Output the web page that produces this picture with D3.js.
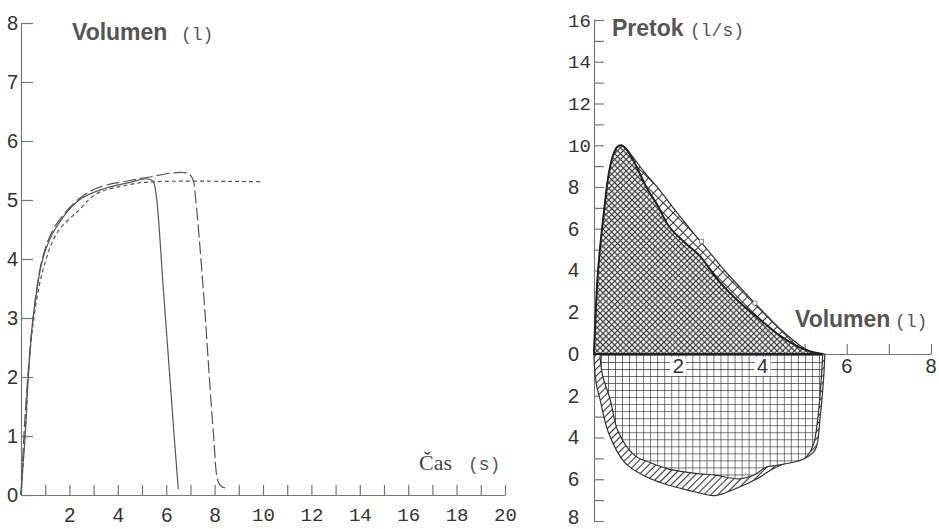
<!DOCTYPE html>
<html>
<head>
<meta charset="utf-8">
<script src="https://cdn.jsdelivr.net/npm/d3@7"></script>
<style>
  body { margin: 0; background: #fff; }
  svg { display: block; }
  .axis path, .axis line { stroke: #777; stroke-width: 1.2; }
  .tick text { font-family: 'Liberation Sans', Arial, sans-serif; font-size: 20px; fill: #333; }
  .tick text.mono { font-family: 'Liberation Mono', monospace; font-size: 19px; }
  .title { font-family: 'Liberation Sans', Arial, sans-serif; font-weight: bold; font-size: 23px; fill: #555; }
  .unit { font-family: 'Liberation Mono', monospace; font-size: 18px; fill: #555; }
  .serif { font-family: 'Liberation Serif', 'DejaVu Serif', serif; font-size: 22px; fill: #444; }
  .vt { fill: none; stroke: #555; stroke-width: 1.2; }
</style>
</head>
<body>
<svg id="chart" width="939" height="529"></svg>
<script>
// volume-time curves, [time s, volume l]
const trialSolid = [[0,0],[0.08,0.5],[0.17,1],[0.3,2],[0.5,3],[0.9,4],[1.4,4.5],[2.4,5.0],[3.5,5.2],[4.5,5.3],[5.2,5.36],[5.45,5.32],[5.58,5.1],[5.88,3.5],[6.32,1.05],[6.5,0.1]]
const trialDash = [[0,0],[0.12,1],[0.28,2],[0.5,3],[0.88,4],[1.4,4.55],[2.4,5.02],[3.26,5.22],[4.5,5.33],[5.33,5.39],[6.3,5.46],[6.9,5.45],[7.1,5.35],[7.22,5.0],[7.53,3.5],[7.95,1.05],[8.15,0.22],[8.3,0.14],[8.43,0.12]]
const trialDot = [[0,0],[0.1,0.6],[0.2,1.2],[0.3,2],[0.5,2.9],[0.9,3.8],[1.5,4.45],[2.4,4.83],[3.1,5.1],[4.6,5.27],[5.5,5.31],[9.9,5.31]]

const volTicks = [0,1,2,3,4,5,6,7,8]
const timeTicks = [1,2,3,4,5,6,7,8,9,10,11,12,13,14,15,16,17,18,19,20]

// flow-volume loops, [volume l, flow l/s]
const expMeasured = [[0,0],[0.03,1.5],[0.08,3.5],[0.14,5],[0.22,6.5],[0.34,8.5],[0.45,9.5],[0.55,9.92],[0.65,10.0],[0.75,9.85],[0.9,9.4],[1.05,8.8],[1.25,7.97],[1.49,7.18],[1.8,6.06],[2.2,5.26],[2.51,4.7],[2.99,3.43],[3.46,2.47],[3.93,1.67],[4.41,0.88],[4.88,0.32],[5.2,0.08],[5.43,0]]
const expOuter = [[0,0],[0.03,1.5],[0.08,3.5],[0.14,5],[0.22,6.5],[0.34,8.5],[0.45,9.5],[0.55,9.92],[0.65,10.0],[0.75,9.88],[0.9,9.5],[1.2,8.7],[1.56,7.85],[1.9,6.95],[2.3,5.95],[2.65,5.1],[3.1,4.0],[3.65,2.8],[4.1,1.85],[4.45,1.15],[4.9,0.4],[5.2,0.08],[5.43,0]]
const inspMeasured = [[0.14,0],[0.2,-1],[0.38,-2.15],[0.58,-3.75],[0.97,-4.87],[1.33,-5.2],[1.76,-5.5],[2.51,-5.74],[2.87,-5.8],[3.46,-5.98],[3.8,-5.8],[4.09,-5.42],[4.33,-5.34],[4.8,-5.15],[5.0,-5.0],[5.2,-4.39],[5.32,-2.95],[5.4,-1.04],[5.43,0]]
const inspOuter = [[0,0],[0.02,-0.8],[0.06,-1.5],[0.14,-2.15],[0.34,-3.75],[0.73,-5.2],[1.37,-6.0],[2.39,-6.6],[2.87,-6.78],[3.3,-6.5],[3.85,-6.0],[4.25,-5.5],[4.6,-5.2],[5.0,-5.0],[5.25,-4.6],[5.37,-3.0],[5.45,-1.2],[5.48,0]]
const predicted = [[2.55,5.4],[3.82,2.44]]

const flowTicks = [-8,-7,-6,-5,-4,-3,-2,-1,0,1,2,3,4,5,6,7,8,9,10,11,12,13,14,15,16]
const volAxisTicks = [1,2,3,4,5,6,7,8]
const volAxisLabels = [2,4,6,8]

let svg = d3.select('#chart')
let defs = svg.append('defs')

// hatch patterns
function crossPattern(id, size, color, width) {
  let p = defs.append('pattern')
      .attr('id', id)
      .attr('patternUnits', 'userSpaceOnUse')
      .attr('width', size).attr('height', size)
      .attr('patternTransform', 'rotate(45)')
  p.append('rect').attr('width', size).attr('height', size).attr('fill', '#fff')
  p.append('path')
      .attr('d', `M0,${ size/2 }H${ size }M${ size/2 },0V${ size }`)
      .attr('stroke', color).attr('stroke-width', width)
}
crossPattern('fineX', 4.1, '#3a3a3a', 1.2)
crossPattern('coarseX', 7, '#333', 1)

let grid = defs.append('pattern')
    .attr('id', 'grid')
    .attr('patternUnits', 'userSpaceOnUse')
    .attr('x', 594).attr('y', 355)
    .attr('width', 7.03).attr('height', 7.03)
grid.append('rect').attr('width', 7.03).attr('height', 7.03).attr('fill', '#fff')
grid.append('path').attr('d', 'M0,0H7.03M0,0V7.03').attr('stroke', '#333').attr('stroke-width', 1.3)

let hatch = defs.append('pattern')
    .attr('id', 'hatch')
    .attr('patternUnits', 'userSpaceOnUse')
    .attr('width', 5).attr('height', 5)
    .attr('patternTransform', 'rotate(-45)')
hatch.append('rect').attr('width', 5).attr('height', 5).attr('fill', '#fff')
hatch.append('path').attr('d', 'M0,2.5H5').attr('stroke', '#333').attr('stroke-width', 1.1)

// ---------- left: volume vs time ----------
let xL = d3.scaleLinear().domain([0, 20]).range([21, 505])
let yL = d3.scaleLinear().domain([0, 8]).range([495, 23])

svg.append('g')
    .attr('class', 'axis')
    .attr('transform', `translate(${ xL(0) },0)`)
    .call(d3.axisLeft(yL).tickValues(volTicks).tickSizeInner(-12).tickSizeOuter(0).tickPadding(3))

svg.append('g')
    .attr('class', 'axis')
    .attr('transform', `translate(0,${ yL(0) })`)
    .call(d3.axisBottom(xL).tickValues(timeTicks).tickSizeInner(-10).tickSizeOuter(0).tickPadding(13)
      .tickFormat(d => d % 2 === 0 ? d : ''))
  .selectAll('.tick text')
    .classed('mono', d => d >= 10)

let lineL = d3.line()
    .x(d => xL(d[0]))
    .y(d => yL(d[1]))
    .curve(d3.curveCatmullRom.alpha(0.5))

svg.append('path').datum(trialDot).attr('class', 'vt').attr('d', lineL)
    .style('stroke-dasharray', '4,3')
svg.append('path').datum(trialDash).attr('class', 'vt').attr('d', lineL)
    .style('stroke-dasharray', '13,4')
svg.append('path').datum(trialSolid).attr('class', 'vt').attr('d', lineL)

let t1 = svg.append('text').attr('y', 40)
t1.append('tspan').attr('class', 'title').attr('x', 72).text('Volumen')
t1.append('tspan').attr('class', 'unit').attr('x', 181).text('(l)')

let t2 = svg.append('text').attr('y', 470)
t2.append('tspan').attr('class', 'serif').attr('x', 419).text('Čas')
t2.append('tspan').attr('class', 'unit').attr('x', 468).text('(s)')

// ---------- right: flow vs volume ----------
let xR = d3.scaleLinear().domain([0, 8]).range([594, 931])
let yR = d3.scaleLinear().domain([-8, 16]).range([521, 20])

let yAxisR = svg.append('g')
    .attr('class', 'axis')
    .attr('transform', `translate(${ xR(0) },0)`)
    .call(d3.axisLeft(yR).tickValues(flowTicks).tickSizeInner(-10).tickSizeOuter(0)
      .tickFormat(d => d % 2 === 0 ? Math.abs(d) : ''))
yAxisR.selectAll('.tick text')
    .attr('x', -26)
    .attr('text-anchor', 'start')
    .attr('dy', d => d === -8 ? '0.1em' : '0.32em')
    .classed('mono', d => Math.abs(d) >= 10)

svg.append('g')
    .attr('class', 'axis')
    .attr('transform', `translate(0,${ yR(0) })`)
    .call(d3.axisBottom(xR).tickValues(volAxisTicks).tickSizeInner(-10).tickSizeOuter(0).tickFormat(''))

let lineR = d3.line()
    .x(d => xR(d[0]))
    .y(d => yR(d[1]))
    .curve(d3.curveCatmullRom.alpha(0.5))

svg.append('path').datum(inspOuter)
    .attr('d', d => lineR(d) + 'Z')
    .attr('fill', 'url(#hatch)')
    .attr('stroke', '#333').attr('stroke-width', 1.2)

svg.append('path').datum(inspMeasured)
    .attr('d', d => lineR(d) + 'Z')
    .attr('fill', 'url(#grid)')
    .attr('stroke', '#333').attr('stroke-width', 1.2)

svg.append('path').datum(expOuter)
    .attr('d', d => lineR(d) + 'Z')
    .attr('fill', 'url(#coarseX)')
    .attr('stroke', '#333').attr('stroke-width', 1.2)

svg.append('path').datum(expMeasured)
    .attr('d', d => lineR(d) + 'Z')
    .attr('fill', 'url(#fineX)')
    .attr('stroke', '#222').attr('stroke-width', 2)

svg.selectAll('rect.pred')
    .data(predicted)
  .enter().append('rect')
    .attr('class', 'pred')
    .attr('x', d => xR(d[0]) - 2)
    .attr('y', d => yR(d[1]) - 2)
    .attr('width', 4).attr('height', 4)
    .attr('fill', '#fff').attr('stroke', '#777').attr('stroke-width', 0.8)

let xLab = svg.selectAll('g.xlab')
    .data(volAxisLabels)
  .enter().append('g')
    .attr('class', 'xlab')
    .attr('transform', d => `translate(${ xR(d) },${ yR(0) })`)

xLab.filter(d => d < 5).append('rect')
    .attr('x', -8).attr('y', 3)
    .attr('width', 16).attr('height', 19)
    .attr('fill', '#fff')

xLab.append('text')
    .attr('y', 19)
    .attr('text-anchor', 'middle')
    .style('font-family', "'Liberation Sans', Arial, sans-serif")
    .style('font-size', '20px')
    .style('fill', '#333')
    .text(d => d)

let t3 = svg.append('text').attr('y', 36)
t3.append('tspan').attr('class', 'title').attr('x', 612).text('Pretok')
t3.append('tspan').attr('class', 'unit').attr('x', 690).text('(l/s)')

let t4 = svg.append('text').attr('y', 327)
t4.append('tspan').attr('class', 'title').attr('x', 795).text('Volumen')
t4.append('tspan').attr('class', 'unit').attr('x', 895).text('(l)')
</script>
</body>
</html>
